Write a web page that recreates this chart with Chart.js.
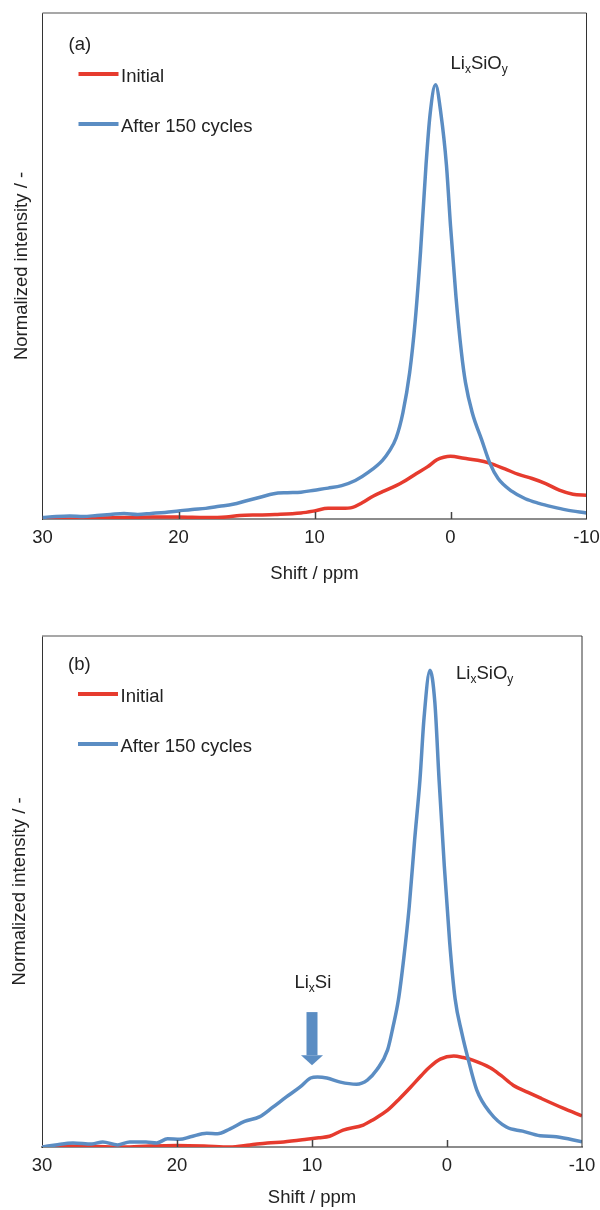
<!DOCTYPE html>
<html>
<head>
<meta charset="utf-8">
<script src="https://cdn.jsdelivr.net/npm/chart.js@4.4.1/dist/chart.umd.min.js"></script>
<style>
  body { margin: 0; background: #fff; width: 600px; height: 1210px; overflow: hidden; }
  .panel { position: absolute; left: 0; width: 600px; }
  #boxA { top: 0; height: 600px; }
  #boxB { top: 600px; height: 610px; }
</style>
</head>
<body>
<div class="panel" id="boxA"><canvas id="chartA"></canvas></div>
<div class="panel" id="boxB"><canvas id="chartB"></canvas></div>
<script>
// valeurs (shift en ppm, intensité normalisée)
var seriesNames = ['Initial', 'After 150 cycles'];
var xTicks = [30, 20, 10, 0, -10];

// (a)
var shiftInitA = [30, 28, 26, 24, 22, 20, 18, 16.5, 15.5, 14, 12.9, 11, 10, 9, 8, 7.2, 6.5, 5.7, 5, 4, 3.5, 2.5, 1.7, 1, 0.5, 0, -1, -2, -2.8, -4, -5, -6, -7, -8, -9, -10];
var valInitA = [0, 0, 0.002, 0.003, 0.004, 0.004, 0.003, 0.004, 0.007, 0.008, 0.009, 0.012, 0.016, 0.021, 0.021, 0.023, 0.032, 0.045, 0.054, 0.066, 0.073, 0.09, 0.103, 0.117, 0.122, 0.124, 0.12, 0.116, 0.111, 0.099, 0.088, 0.08, 0.07, 0.057, 0.049, 0.047];
var shiftCycA = [30, 29, 28, 27, 26, 25, 24, 23, 22, 21, 20, 19, 18, 17, 16, 15, 14, 13, 12, 11, 10, 9, 8, 7, 6, 5, 4.5, 4, 3.5, 3, 2.6, 2.2, 1.8, 1.5, 1.1, 0.7, 0.3, 0, -0.4, -0.8, -1.1, -1.6, -2.3, -2.9, -3.5, -4.5, -5.5, -6.5, -7.5, -8.5, -10];
var valCycA = [0.003, 0.005, 0.006, 0.005, 0.007, 0.009, 0.011, 0.009, 0.011, 0.013, 0.016, 0.019, 0.021, 0.025, 0.029, 0.036, 0.043, 0.05, 0.052, 0.053, 0.057, 0.061, 0.066, 0.076, 0.093, 0.116, 0.134, 0.16, 0.21, 0.29, 0.39, 0.53, 0.7, 0.8, 0.858, 0.8, 0.7, 0.58, 0.44, 0.33, 0.27, 0.21, 0.156, 0.11, 0.08, 0.055, 0.04, 0.031, 0.024, 0.018, 0.012];

// (b)
var shiftInitB = [30, 28, 26, 24, 22, 20, 18, 16.1, 14.6, 13.3, 12.1, 10.4, 9.5, 8.7, 7.7, 6.2, 5.5, 4.4, 3.5, 2.7, 1.9, 1.26, 0.5, -0.5, -1.2, -1.9, -3.2, -4, -4.9, -6, -6.9, -8.6, -10];
var valInitB = [0, 0.002, 0.001, 0, 0.002, 0.003, 0.002, 0, 0.004, 0.008, 0.01, 0.015, 0.018, 0.021, 0.033, 0.043, 0.053, 0.072, 0.095, 0.117, 0.14, 0.157, 0.172, 0.178, 0.175, 0.17, 0.155, 0.14, 0.121, 0.107, 0.096, 0.076, 0.061];
var shiftCycB = [30, 29, 27.7, 26.3, 25.5, 24.4, 23.5, 22.3, 21.5, 20.7, 19.8, 19, 17.8, 17, 16.1, 15, 13.9, 12.9, 11.9, 10.9, 10.1, 9.6, 8.9, 7.9, 6.7, 5.9, 5.2, 4.4, 4, 3.6, 3.2, 2.8, 2.4, 2, 1.7, 1.26, 0.9, 0.59, 0.2, -0.2, -0.6, -1.1, -1.55, -2.2, -3.2, -4.4, -5.6, -6.9, -8.1, -10];
var valCycB = [0, 0.004, 0.008, 0.006, 0.01, 0.004, 0.01, 0.01, 0.008, 0.016, 0.015, 0.02, 0.027, 0.026, 0.035, 0.05, 0.059, 0.078, 0.098, 0.117, 0.135, 0.137, 0.135, 0.127, 0.123, 0.131, 0.151, 0.19, 0.235, 0.288, 0.37, 0.47, 0.6, 0.72, 0.84, 0.933, 0.87, 0.72, 0.55, 0.4, 0.29, 0.223, 0.174, 0.112, 0.067, 0.039, 0.031, 0.022, 0.02, 0.01];

var RED = '#e63b2e';
var BLUE = '#5b8dc3';
var FONT = "'Liberation Sans', Arial, sans-serif";

function toPoints(xs, ys) {
    return xs.map(function(x, i) { return { x: x, y: ys[i] }; });
}

// texte avec indices (Li_x Si O_y)
function drawSubText(ctx, parts, x, y) {
    parts.forEach(function(p) {
        var sub = p[1];
        ctx.font = (sub ? '12px ' : '18.5px ') + FONT;
        ctx.fillText(p[0], x, sub ? y + 4 : y);
        x += ctx.measureText(p[0]).width;
    });
}

const decor = {
    id: 'decor',
    afterDatasetsDraw(chart, args, opts) {
        const ctx = chart.ctx;
        const a = chart.chartArea;
        const xs = chart.scales.x;
        const ys = chart.scales.y;
        ctx.save();
        // cadre haut / droite
        ctx.strokeStyle = '#8a8a8a';
        ctx.lineWidth = 1.5;
        ctx.beginPath(); ctx.moveTo(a.left, a.top); ctx.lineTo(a.right, a.top); ctx.stroke();
        ctx.strokeStyle = '#333';
        ctx.lineWidth = 1;
        ctx.beginPath(); ctx.moveTo(a.right, a.top); ctx.lineTo(a.right, a.bottom); ctx.stroke();
        // graduations vers l'intérieur
        ctx.strokeStyle = '#444';
        ctx.lineWidth = 1.5;
        [20, 10, 0].forEach(function(v) {
            const px = Math.round(xs.getPixelForValue(v)) + 0.5;
            ctx.beginPath(); ctx.moveTo(px, a.bottom); ctx.lineTo(px, a.bottom - 7); ctx.stroke();
        });
        // étiquette du panneau
        ctx.fillStyle = '#222';
        ctx.textBaseline = 'middle';
        ctx.textAlign = 'left';
        ctx.font = '18.5px ' + FONT;
        ctx.fillText(opts.tag, a.left + 26, a.top + opts.tagDy);
        // légende
        chart.data.datasets.forEach(function(ds, i) {
            const ly = a.top + opts.legDy + i * 50;
            ctx.strokeStyle = ds.borderColor;
            ctx.lineWidth = 4;
            ctx.beginPath(); ctx.moveTo(a.left + 36, ly); ctx.lineTo(a.left + 76, ly); ctx.stroke();
            ctx.fillStyle = '#222';
            ctx.font = '18.5px ' + FONT;
            ctx.fillText(ds.label, a.left + 78.5, ly + 3);
        });
        // annotations
        ctx.textBaseline = 'alphabetic';
        opts.notes.forEach(function(n) {
            drawSubText(ctx, n.parts, xs.getPixelForValue(n.x), ys.getPixelForValue(n.y));
        });
        if (opts.arrow) {
            const ax = xs.getPixelForValue(opts.arrow.x);
            const y0 = ys.getPixelForValue(opts.arrow.from);
            const y1 = ys.getPixelForValue(opts.arrow.to);
            ctx.fillStyle = BLUE;
            ctx.fillRect(ax - 5.5, y0, 11, y1 - y0 - 10);
            ctx.beginPath();
            ctx.moveTo(ax - 11, y1 - 10);
            ctx.lineTo(ax + 11, y1 - 10);
            ctx.lineTo(ax, y1);
            ctx.closePath();
            ctx.fill();
        }
        ctx.restore();
    }
};

function makeChart(id, initPts, cycPts, cfg) {
    const el = document.getElementById(id);
    return new Chart(el, {
        type: 'scatter',
        data: {
            datasets: [
                { label: seriesNames[0], data: initPts, showLine: true, borderColor: RED, borderWidth: 3.5, pointRadius: 0, cubicInterpolationMode: 'monotone', order: 1 },
                { label: seriesNames[1], data: cycPts, showLine: true, borderColor: BLUE, borderWidth: 3.5, pointRadius: 0, cubicInterpolationMode: 'monotone', order: 0 }
            ]
        },
        options: {
            responsive: true,
            maintainAspectRatio: false,
            animation: false,
            layout: { padding: { top: cfg.top, right: cfg.right, left: 0, bottom: 0 } },
            plugins: {
                legend: { display: false },
                tooltip: { enabled: false },
                decor: cfg.decor
            },
            scales: {
                x: {
                    type: 'linear',
                    reverse: true,
                    min: -10,
                    max: 30,
                    afterBuildTicks: function(s) { s.ticks = xTicks.map(function(v) { return { value: v }; }); },
                    afterFit: function(s) { s.height = cfg.xHeight; s.paddingLeft = 0; s.paddingRight = 0; },
                    grid: { display: false, drawTicks: false },
                    border: { display: true, color: '#8c8c8c', width: 2 },
                    ticks: { color: '#222', padding: cfg.tickPad, maxRotation: 0, font: { size: 18.5, family: FONT } },
                    title: { display: true, text: 'Shift / ppm', color: '#222', font: { size: 18.5, family: FONT }, padding: { top: 0, bottom: cfg.titlePad } }
                },
                y: {
                    min: 0,
                    max: 1,
                    afterFit: function(s) { s.width = cfg.yWidth; s.paddingTop = 0; s.paddingBottom = 0; },
                    grid: { display: false, drawTicks: false },
                    border: { display: true, color: '#333', width: 1 },
                    ticks: { display: false },
                    title: { display: true, text: 'Normalized intensity / -', color: '#222', font: { size: 18.5, family: FONT }, padding: { top: cfg.yTitlePad, bottom: 0 } }
                }
            }
        },
        plugins: [decor]
    });
}

makeChart('chartA', toPoints(shiftInitA, valInitA), toPoints(shiftCycA, valCycA), {
    top: 13, right: 13.5, xHeight: 81, yWidth: 42.5, tickPad: 8, titlePad: 15, yTitlePad: 11,
    decor: {
        tag: '(a)', tagDy: 32, legDy: 61,
        notes: [{ parts: [['Li', false], ['x', true], ['Si', false], ['O', false], ['y', true]], x: 0.0, y: 0.889 }]
    }
});

makeChart('chartB', toPoints(shiftInitB, valInitB), toPoints(shiftCycB, valCycB), {
    top: 36, right: 18, xHeight: 63, yWidth: 42, tickPad: 8, titlePad: 1, yTitlePad: 9,
    decor: {
        tag: '(b)', tagDy: 29, legDy: 58,
        notes: [
            { parts: [['Li', false], ['x', true], ['Si', false], ['O', false], ['y', true]], x: -0.67, y: 0.916 },
            { parts: [['Li', false], ['x', true], ['Si', false]], x: 11.3, y: 0.311 }
        ],
        arrow: { x: 10, from: 0.264, to: 0.16 }
    }
});
</script>
</body>
</html>
